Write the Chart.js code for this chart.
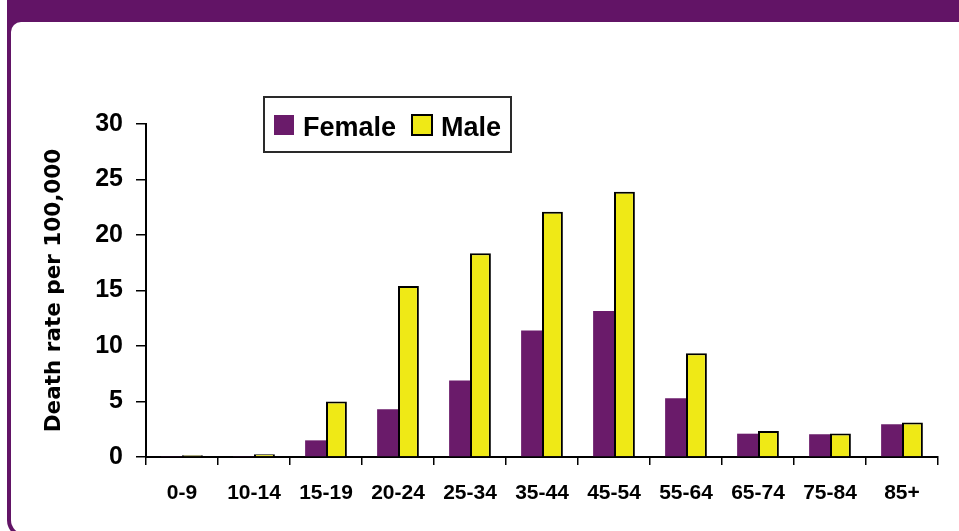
<!DOCTYPE html>
<html>
<head>
<meta charset="utf-8">
<script src="https://cdn.jsdelivr.net/npm/chart.js@4.4.1/dist/chart.umd.min.js"></script>
<style>
  html, body { margin: 0; padding: 0; background: #ffffff; }
  #wrap { position: relative; width: 959px; height: 531px; overflow: hidden; background: #ffffff; }
  #frameOuter { position: absolute; left: 7px; top: 0; width: 960px; height: 538px; background: #621466; border-bottom-left-radius: 18px; }
  #frameInner { position: absolute; left: 11px; top: 22px; width: 960px; height: 512px; background: #ffffff; border-top-left-radius: 10px; border-bottom-left-radius: 14px; }
  #chart { position: absolute; left: 0; top: 0; }
</style>
</head>
<body>
<div id="wrap">
  <div id="frameOuter"></div>
  <div id="frameInner"></div>
  <canvas id="chart" width="959" height="531"></canvas>
</div>
<script>
const categories = ["0-9", "10-14", "15-19", "20-24", "25-34", "35-44", "45-54", "55-64", "65-74", "75-84", "85+"];
const femaleValues = [0.05, 0.05, 1.5, 4.3, 6.9, 11.4, 13.15, 5.3, 2.1, 2.05, 2.95];
const maleValues = [0.15, 0.25, 5.0, 15.4, 18.35, 22.1, 23.9, 9.35, 2.35, 2.12, 3.1];
const seriesNames = ["Female", "Male"];
const yTicks = [0, 5, 10, 15, 20, 25, 30];
const yTitle = "Death rate per 100,000";

const PURPLE = "#6a1b6a";
const YELLOW = "#efe916";

const boxLegend = {
  id: "boxLegend",
  afterDraw(chart) {
    const ctx = chart.ctx;
    const ca = chart.chartArea;
    const x0 = ca.left + 118, y0 = ca.top - 27, w = 247, h = 55;
    ctx.save();
    ctx.fillStyle = "#ffffff";
    ctx.fillRect(x0, y0, w, h);
    ctx.lineWidth = 2;
    ctx.strokeStyle = "#2a2a2a";
    ctx.strokeRect(x0, y0, w, h);
    const ds = chart.data.datasets;
    ctx.font = "bold 27px 'Liberation Sans'";
    ctx.textBaseline = "alphabetic";
    ctx.fillStyle = ds[0].backgroundColor;
    ctx.fillRect(x0 + 10, y0 + 18, 20, 20);
    ctx.fillStyle = "#000000";
    ctx.fillText(ds[0].label, x0 + 39, y0 + 39);
    ctx.fillStyle = ds[1].backgroundColor;
    ctx.fillRect(x0 + 148, y0 + 18, 20, 20);
    ctx.lineWidth = 2;
    ctx.strokeStyle = "#000000";
    ctx.strokeRect(x0 + 148, y0 + 18, 20, 20);
    ctx.fillStyle = "#000000";
    ctx.fillText(ds[1].label, x0 + 177, y0 + 39);
    ctx.restore();
  }
};

new Chart(document.getElementById("chart"), {
  type: "bar",
  data: {
    labels: categories,
    datasets: [
      { label: seriesNames[0], data: femaleValues, backgroundColor: PURPLE, borderWidth: 0 },
      { label: seriesNames[1], data: maleValues, backgroundColor: YELLOW, borderColor: "#000000", borderWidth: 2 }
    ]
  },
  options: {
    responsive: false,
    animation: false,
    events: [],
    layout: { padding: { left: 0, right: 21, top: 124, bottom: 0 } },
    datasets: { bar: { categoryPercentage: 0.58, barPercentage: 1.0 } },
    plugins: { legend: { display: false }, tooltip: { enabled: false }, title: { display: false } },
    scales: {
      x: {
        grid: { display: true, drawOnChartArea: false, drawTicks: true, tickLength: 8, color: "#000000", lineWidth: 1.5, offset: true },
        border: { display: true, color: "#000000", width: 2 },
        ticks: { color: "#000000", font: { family: "'Liberation Sans'", size: 21, weight: "bold" }, padding: 16, maxRotation: 0, autoSkip: false },
        afterFit(scale) { scale.height = 74; }
      },
      y: {
        min: yTicks[0],
        max: yTicks[yTicks.length - 1],
        afterBuildTicks(scale) { scale.ticks = yTicks.map(v => ({ value: v })); },
        grid: { display: true, drawOnChartArea: false, drawTicks: true, tickLength: 10, color: "#000000", lineWidth: 1.5 },
        border: { display: true, color: "#000000", width: 2 },
        ticks: { color: "#000000", font: { family: "'Liberation Sans'", size: 25, weight: "bold" }, padding: 13 },
        title: { display: true, text: yTitle, color: "#000000", font: { family: "'DejaVu Sans'", size: 21.5, weight: "bold" }, padding: { top: 42, bottom: 0 } },
        afterFit(scale) { scale.width = 146; }
      }
    }
  },
  plugins: [boxLegend]
});
</script>
</body>
</html>
